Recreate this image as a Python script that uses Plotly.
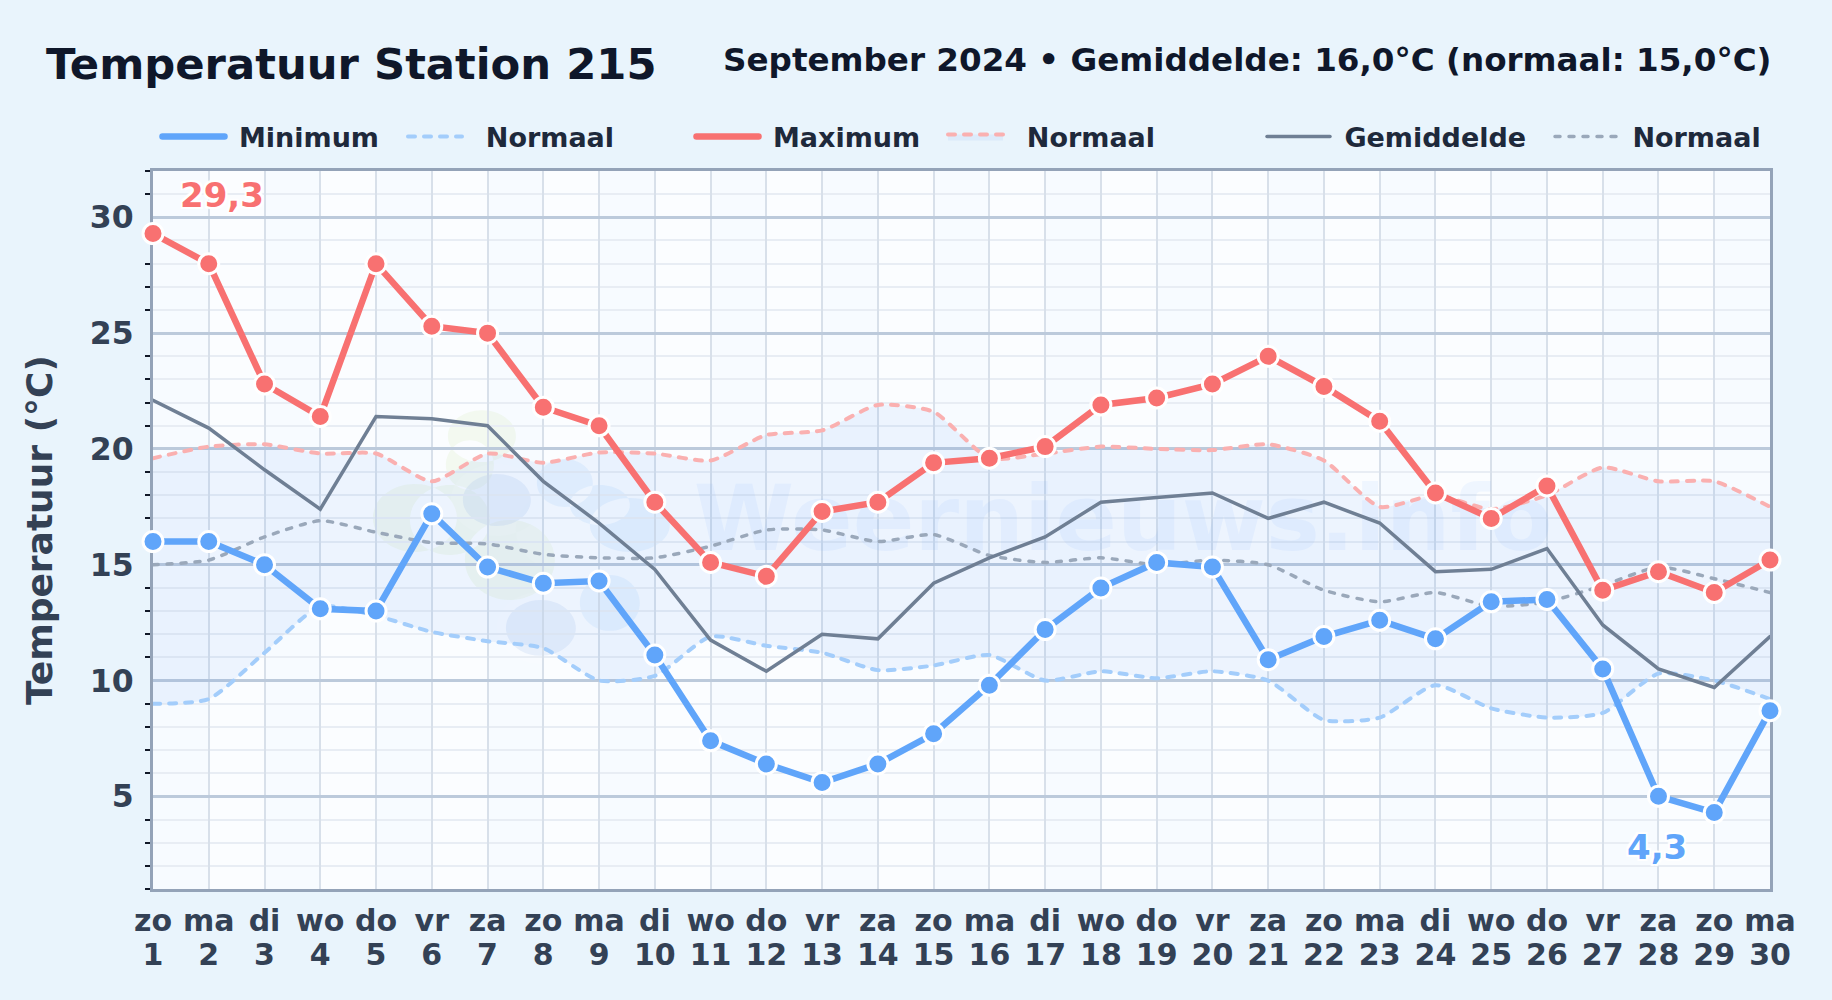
import plotly.graph_objects as go

days = list(range(1, 31))
weekdays = ["zo","ma","di","wo","do","vr","za"]
day_names = [weekdays[(d - 1) % 7] for d in days]
day_numbers = [str(d) for d in days]

t_max = [29.3,28,22.8,21.4,28,25.3,25,21.8,21,17.7,15.1,14.5,17.3,17.7,19.4,19.6,20.1,21.9,22.2,22.8,24,22.7,21.2,18.1,17,18.4,13.9,14.7,13.8,15.2]
t_min = [16,16,15,13.1,13,17.2,14.9,14.2,14.3,11.1,7.4,6.4,5.6,6.4,7.7,9.8,12.2,14,15.1,14.9,10.9,11.9,12.6,11.8,13.4,13.5,10.5,5,4.3,8.7]
t_mean = [22.1,20.9,19.1,17.4,21.4,21.3,21,18.6,16.8,14.8,11.75,10.4,12,11.8,14.2,15.3,16.2,17.7,17.9,18.1,17,17.7,16.8,14.7,14.8,15.7,12.4,10.5,9.7,11.9]
n_min = [9,9.2,11.2,13.2,12.8,12.1,11.7,11.4,10,10.2,11.9,11.5,11.2,10.45,10.65,11.1,10,10.4,10.1,10.4,10,8.3,8.4,9.8,8.8,8.4,8.6,10.3,10,9.2]
n_max = [19.6,20.1,20.2,19.8,19.8,18.6,19.8,19.4,19.85,19.8,19.5,20.6,20.8,21.9,21.6,19.6,19.8,20.1,20,19.95,20.2,19.5,17.5,18,17.4,18,19.2,18.6,18.6,17.5]
n_mean = [15,15.2,16.2,16.9,16.4,15.95,15.9,15.45,15.3,15.3,15.8,16.5,16.5,16,16.3,15.4,15.1,15.3,15,15.2,15,13.9,13.4,13.8,13.2,13.4,14.1,14.9,14.4,13.8]
band_starts = list(range(1, 30, 2))

FONT = "DejaVu Sans"
W, H = 1832, 1000
BLUE, RED, SLATE = "#60a5fa", "#f87171", "#6f7f94"
L, R, T, B = 153, 1770.5, 170.5, 889.5

fig = go.Figure()

# watermark below every line
fig.add_trace(go.Scatter(x=[18.4], y=[16.6], mode="text", text=["<b>Weernieuws.info</b>"],
    textposition="middle center", showlegend=False, hoverinfo="skip", cliponaxis=False,
    textfont=dict(family=FONT, size=91, color="rgba(96,165,250,0.075)")))

SM = 0.6
fig.add_trace(go.Scatter(x=days, y=n_min, mode="lines", name="\u00a0\u00a0Normaal", legend="legend2", cliponaxis=False,
    line=dict(color="#a3cdfb", width=4, dash="7px,9px", shape="spline", smoothing=SM)))
fig.add_trace(go.Scatter(x=days, y=n_max, mode="lines", name="\u00a0\u00a0Normaal", legend="legend4", cliponaxis=False,
    fill="tonexty", fillcolor="rgba(59,130,246,0.07)",
    line=dict(color="#fab0b0", width=4, dash="7px,9px", shape="spline", smoothing=SM)))
fig.add_trace(go.Scatter(x=days, y=n_mean, mode="lines", name="\u00a0Normaal", legend="legend6", cliponaxis=False,
    line=dict(color="#9aa8ba", width=3.5, dash="5px,9px", shape="spline", smoothing=SM)))
fig.add_trace(go.Scatter(x=days, y=t_mean, mode="lines", name="\u00a0Gemiddelde", legend="legend5", cliponaxis=False,
    line=dict(color=SLATE, width=3.5)))
fig.add_trace(go.Scatter(x=days, y=t_max, mode="lines", name="\u00a0Maximum", legend="legend3", cliponaxis=False,
    line=dict(color=RED, width=6.5)))
fig.add_trace(go.Scatter(x=days, y=t_min, mode="lines", name="\u00a0Minimum", legend="legend", cliponaxis=False,
    line=dict(color=BLUE, width=6.5)))
for vals, col in ((t_max, RED), (t_min, BLUE)):
    fig.add_trace(go.Scatter(x=days, y=vals, mode="markers", showlegend=False, cliponaxis=False,
        marker=dict(size=20, color=col, line=dict(color="white", width=3))))
# carries the second row of day labels
fig.add_trace(go.Scatter(x=[days[0]], y=[t_min[0]], xaxis="x2", mode="markers", showlegend=False,
    hoverinfo="skip", marker=dict(size=1, opacity=0)))

def py(y): return 1 - y / H

def blob_path(ellipses):
    """One closed path made of several ellipses, so overlaps do not darken."""
    k = 0.5523
    def fx(v): return (v - L) / (R - L)
    def fy(v): return (B - v) / (B - T)
    parts = []
    for cx, cy, rx, ry in ellipses:
        pts = [(cx + rx, cy), (cx + rx, cy + k * ry), (cx + k * rx, cy + ry), (cx, cy + ry),
               (cx - k * rx, cy + ry), (cx - rx, cy + k * ry), (cx - rx, cy),
               (cx - rx, cy - k * ry), (cx - k * rx, cy - ry), (cx, cy - ry),
               (cx + k * rx, cy - ry), (cx + rx, cy - k * ry), (cx + rx, cy)]
        s = f"M{fx(pts[0][0]):.5f},{fy(pts[0][1]):.5f}"
        for i in range(1, 13, 3):
            s += " C" + " ".join(f"{fx(a):.5f},{fy(b):.5f}" for a, b in pts[i:i + 3])
        parts.append(s + " Z")
    return " ".join(parts)

def blob(ellipses, col):
    return dict(type="path", xref="paper", yref="paper", layer="below", path=blob_path(ellipses),
                fillcolor=col, line=dict(width=0))

shapes = [dict(type="rect", xref="x", yref="paper", layer="below", x0=s, x1=s + 1, y0=0, y1=1,
               fillcolor="rgba(59,130,246,0.018)", line=dict(width=0)) for s in band_starts]
shapes.append(blob([(482,436,34,26),(470,465,24,25),(415,518,42,34),(450,520,40,35),(510,560,45,40)], "rgba(190,220,130,0.12)"))
shapes.append(blob([(497,500,46,36),(560,530,44,40),(541,628,44,36)], "rgba(255,255,255,0.20)"))
shapes.append(blob([(565,483,28,24),(600,505,30,20),(630,525,40,27),(610,603,30,28)], "rgba(96,175,250,0.10)"))
shapes.append(blob([(497,500,34,26),(541,628,35,28)], "rgba(96,150,220,0.11)"))
fig.update_layout(shapes=shapes)

HALO = "2px 2px 1px white, -2px -2px 1px white, 2px -2px 1px white, -2px 2px 1px white, 0 0 4px white"
fig.add_annotation(x=2.24, y=30.96, text="<b>29,3</b>", showarrow=False,
    font=dict(family=FONT, size=34, color=RED, shadow=HALO))
fig.add_annotation(x=27.97, y=2.8, text="<b>4,3</b>", showarrow=False,
    font=dict(family=FONT, size=34, color=BLUE, shadow=HALO))
fig.add_annotation(xref="paper", yref="paper", x=1.0, y=(B - 59) / (B - T), xanchor="right", yanchor="middle", xshift=3.5,
    text="<b>September 2024 • Gemiddelde: 16,0°C (normaal: 15,0°C)</b>", showarrow=False,
    font=dict(family=FONT, size=32.6, color="#0f172a"))
fig.add_annotation(xref="paper", yref="paper", x=(39 - L) / (R - L), y=0.5, xanchor="center", yanchor="middle",
    textangle=-90, showarrow=False,
    text="<b>Temperatuur (°C)</b>", font=dict(family=FONT, size=36, color="#334155"))

legends = {}
for key, x, iw in (("legend", 157.5, 62), ("legend2", 403, 54), ("legend3", 691.5, 62),
                   ("legend4", 943, 55), ("legend5", 1262, 63), ("legend6", 1550, 63)):
    legends[key] = dict(x=x / W, y=py(137), xref="container", yref="container", xanchor="left", yanchor="middle",
                        bgcolor="rgba(0,0,0,0)", itemwidth=iw, itemclick=False,
                        font=dict(family=FONT, size=27, color="#1e293b", weight="bold"))

AXIS_TICK = dict(family=FONT, size=30, color="#334155", weight="bold")
fig.update_layout(
    width=W, height=H, autosize=False,
    margin=dict(l=L, r=W - R, t=T, b=H - B, pad=0, autoexpand=False),
    paper_bgcolor="#e9f4fc", plot_bgcolor="#fbfdff",
    font=dict(family=FONT),
    title=dict(text="<b>Temperatuur Station 215</b>", x=46 / W, xanchor="left", xref="container",
               y=py(64), yanchor="middle", yref="container",
               font=dict(family=FONT, size=43.3, color="#0f172a")),
    **legends,
    xaxis=dict(range=[1, 30], tickmode="array", tickvals=days, ticktext=day_names,
               tickfont=AXIS_TICK, tickangle=0,
               ticks="", ticklabelstandoff=3, showgrid=True, gridcolor="#d8e0ea", gridwidth=2,
               zeroline=False, showline=True, mirror=True, linecolor="#94a3b8", linewidth=3,
               layer="below traces"),
    xaxis2=dict(range=[1, 30], overlaying="x", anchor="y", side="bottom", tickmode="array",
                tickvals=days, ticktext=day_numbers, tickfont=AXIS_TICK, tickangle=0,
                ticks="", ticklabelstandoff=45, showgrid=False, zeroline=False, showline=False),
    yaxis=dict(range=[1, 32], tick0=0, dtick=5, showgrid=True, gridcolor="#bccadb", gridwidth=3,
               minor=dict(dtick=1, tick0=0, showgrid=True, gridcolor="#e8edf4", gridwidth=2,
                          ticks="outside", ticklen=5, tickwidth=1.5, tickcolor="#111827"),
               ticks="", ticklabelstandoff=10,
               tickfont=dict(family=FONT, size=31.5, color="#334155", weight="bold"),
               zeroline=False, showline=True, mirror=True, linecolor="#94a3b8", linewidth=3,
               layer="below traces"),
)

post = """document.body.style.margin='0';
var s=document.createElement('style');
s.textContent='.js-line,.legendlines path{stroke-linecap:round}';
document.head.appendChild(s);"""
fig.write_html("out.html", post_script=post, config={"displayModeBar": False})
